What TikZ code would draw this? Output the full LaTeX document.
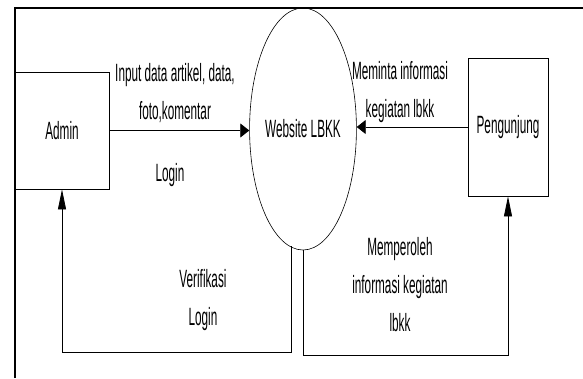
\documentclass[tikz,border=0pt]{standalone}
\usepackage{fontspec}
\setmainfont[FakeStretch=0.47]{Liberation Sans}
\usetikzlibrary{arrows.meta,shapes.geometric}
\begin{document}
\begin{tikzpicture}[x=1pt,y=-1pt,
  ent/.style={draw,line width=0.8pt,rectangle,inner sep=0pt},
  proc/.style={draw,line width=0.6pt,ellipse,inner sep=0pt,minimum width=90pt,minimum height=242pt},
  lbl/.style={align=center,inner sep=0pt,font=\fontsize{25}{38}\selectfont},
  flow/.style={line width=0.8pt},
  harrow/.style={flow,-{Triangle[length=9pt,width=14pt]}},
  varrow/.style={flow,-{Triangle[length=20pt,width=8pt]}},
  every node/.style={font=\fontsize{25}{38}\selectfont}]
\useasboundingbox (0,0) rectangle (583,378);
% frame
\draw[line width=1.6pt] (15,378) -- (15,8) -- (583,8);
% entities
\node[ent,minimum width=94pt,minimum height=117pt] (admin) at (62,130.5) {Admin};
\node[ent,minimum width=80pt,minimum height=138pt] (peng) at (508,127) {Pengunjung};
\node[proc] (web) at (303,129) {Website LBKK};
% flows
\draw[harrow] (admin.east) -- (admin.east -| web.west);
\draw[harrow] (peng.west) -- (peng.west -| web.east);
\coordinate (wl) at (291,246);
\draw[varrow] (wl) -- (wl |- 0,352) -| (admin.south);
\draw[varrow] (web.south) -- (303,355) -| (peng.south);
% labels
\node[lbl] (l1) at (175,93.5) {Input data artikel, data,\\foto,komentar};
\node[lbl] (l2) at (170,175) {Login};
\node[lbl] (l3) at (400,92.5) {Meminta informasi\\kegiatan lbkk};
\node[lbl] (l4) at (203,300) {Verifikasi\\Login};
\node[lbl] (l5) at (400,285) {Memperoleh\\informasi kegiatan\\lbkk};
\end{tikzpicture}
\end{document}
